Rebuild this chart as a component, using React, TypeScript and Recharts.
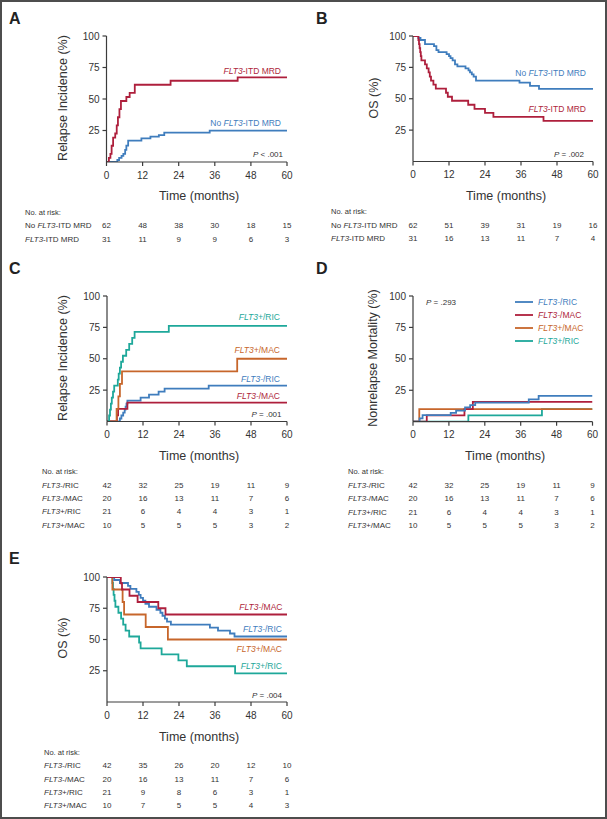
import { LineChart, Line, XAxis, YAxis } from 'recharts';

type Pt = [number, number];

const RED = '#ae1f3c';
const BLUE = '#3f7dbd';
const TEAL = '#1ea89a';
const ORANGE = '#c7662b';
const AXIS = '#3c3c3c';
const TEXT = '#333333';
const FONT = '"Liberation Sans", Arial, sans-serif';

const XT = [0, 12, 24, 36, 48, 60];
const YT = [25, 50, 75, 100];

// A: relapse incidence by FLT3-ITD MRD
const A_ITD: Pt[] = [[0, 0], [0.8, 3.2], [1.3, 6.5], [1.7, 12.9], [2.2, 19.4], [2.9, 22.6], [3.4, 29], [3.8, 35.5], [4.3, 41.9], [4.8, 48.4], [6.6, 51.6], [7.7, 54.8], [9.4, 61.3], [21.3, 64.5], [43.6, 67.2], [60, 67.2]];
const A_NO: Pt[] = [[0, 0], [3.6, 1.6], [4.2, 3.2], [5, 4.8], [5.6, 6.5], [6.2, 9.7], [6.6, 13], [7.2, 16.9], [11.6, 18.8], [14.6, 20.1], [17.4, 21.4], [19.2, 23.3], [34.3, 24.9], [60, 24.9]];
const A_RISK_NO = [62, 48, 38, 30, 18, 15];
const A_RISK_ITD = [31, 11, 9, 9, 6, 3];

// B: OS by FLT3-ITD MRD
const B_NO: Pt[] = [[0, 100], [1.8, 98.4], [2.5, 96.8], [4, 93.5], [7, 91.9], [7.8, 88.7], [8.5, 87.1], [11.2, 85.5], [12, 83.9], [12.5, 82.3], [13.2, 80.6], [14, 77.4], [14.8, 75.8], [17.5, 74.2], [18.5, 72.6], [19, 71], [19.6, 69.4], [20.2, 67.7], [21, 64.5], [35.5, 62.9], [39, 60.2], [42, 57.8], [60, 57.8]];
const B_ITD: Pt[] = [[0, 100], [1.8, 96.8], [2, 93.5], [2.2, 90.3], [2.4, 87.1], [2.6, 83.9], [2.8, 80.6], [4, 77.4], [4.6, 74.2], [5.2, 71], [5.6, 67.7], [6, 64.5], [6.8, 61.3], [7.6, 58.1], [11, 54.8], [11.6, 51.6], [13, 48.4], [18.4, 45.2], [20.5, 41.9], [24, 38.7], [26.8, 35.5], [43.5, 32.3], [60, 32.3]];
const B_RISK_NO = [62, 51, 39, 31, 19, 16];
const B_RISK_ITD = [31, 16, 13, 11, 7, 4];

// C: relapse incidence by FLT3 status and conditioning
const C_POS_RIC: Pt[] = [[0, 0], [0.7, 4.8], [1, 9.5], [1.3, 14.3], [1.6, 19], [2, 23.8], [2.4, 28.6], [3.6, 33.3], [3.9, 38.1], [4.3, 42.9], [4.7, 47.6], [5.3, 52.4], [6.4, 57.1], [7.4, 61.9], [8.4, 66.7], [9.2, 71.4], [20.6, 76.2], [60, 76.2]];
const C_POS_MAC: Pt[] = [[0, 0], [3.2, 10], [3.8, 20], [4.3, 30], [5, 40], [43.4, 50], [60, 50]];
const C_NEG_RIC: Pt[] = [[0, 0], [4.3, 2.4], [4.8, 4.8], [5.4, 7.1], [5.9, 9.5], [6.2, 11.9], [6.5, 14.3], [6.8, 16.7], [11.2, 19], [14, 21.4], [17.2, 23.8], [19.2, 26.2], [33.9, 28.6], [60, 28.6]];
const C_NEG_MAC: Pt[] = [[0, 0], [3.3, 5], [3.7, 10], [6.8, 15], [60, 15]];

// D: nonrelapse mortality
const D_NEG_RIC: Pt[] = [[0, 0], [2.2, 2.6], [3.2, 5.3], [12.6, 7.1], [14.4, 8.8], [17.4, 11.4], [19.1, 13.2], [20.8, 15.1], [38.7, 17.8], [42, 20.6], [60, 20.6]];
const D_NEG_MAC: Pt[] = [[0, 0], [4.6, 5], [17.2, 10], [20, 15.8], [60, 15.8]];
const D_POS_MAC: Pt[] = [[0, 0], [2.1, 10], [60, 10]];
const D_POS_RIC: Pt[] = [[0, 0], [18.5, 5], [43.1, 10], [60, 10]];

// E: OS by FLT3 status and conditioning
const E_NEG_MAC: Pt[] = [[0, 100], [4.6, 95], [5, 90], [7.5, 85], [10.2, 80], [17.1, 75], [19.5, 70], [60, 70]];
const E_NEG_RIC: Pt[] = [[0, 100], [2.4, 97.6], [4.3, 95.2], [7, 92.9], [7.8, 90.5], [9.8, 88.1], [10.6, 85.7], [11.2, 83.3], [12, 81], [12.8, 78.6], [14, 76.2], [16.5, 73.8], [17.8, 71.4], [18.5, 69], [19.3, 66.7], [20, 64.3], [21.3, 61.9], [34.3, 59.5], [37, 57.1], [41, 54.8], [42.5, 52.4], [60, 52.4]];
const E_POS_MAC: Pt[] = [[0, 100], [1.8, 90], [5.2, 80], [5.7, 70], [12.9, 60], [20.3, 50], [60, 50]];
const E_POS_RIC: Pt[] = [[0, 100], [1.8, 95.2], [2, 90.5], [2.2, 85.7], [2.5, 81], [2.8, 76.2], [3.8, 71.4], [4.7, 66.7], [5.4, 61.9], [6.2, 57.1], [7.4, 52.4], [10.7, 47.6], [11.2, 42.9], [18.2, 38.1], [23.8, 33.3], [26.6, 28.6], [42.7, 22.9], [60, 22.9]];

const CD_RISK_NEG_RIC = [42, 32, 25, 19, 11, 9];
const CD_RISK_NEG_MAC = [20, 16, 13, 11, 7, 6];
const CD_RISK_POS_RIC = [21, 6, 4, 4, 3, 1];
const CD_RISK_POS_MAC = [10, 5, 5, 5, 3, 2];
const E_RISK_NEG_RIC = [42, 35, 26, 20, 12, 10];
const E_RISK_NEG_MAC = [20, 16, 13, 11, 7, 6];
const E_RISK_POS_RIC = [21, 9, 8, 6, 3, 1];
const E_RISK_POS_MAC = [10, 7, 5, 5, 4, 3];

const YW = 30;
const XH = 20;

type Box = { left: number; top: number; w: number; h: number };
type Plot = { x0: number; x1: number; y0: number; y1: number };
type Series = { name: string; pts: Pt[]; color: string };

function Panel({ box, plot, series, risk }: { box: Box; plot: Plot; series: Series[]; risk: number[][] }) {
  const margin = {
    top: plot.y0 - box.top,
    right: box.left + box.w - plot.x1,
    left: plot.x0 - box.left - YW,
    bottom: box.top + box.h - plot.y1 - XH,
  };
  const axisY = plot.y1 - box.top;
  // x tick label plus the at-risk numbers under it, placed by the axis scale
  const tick = (p: any) => {
    const i = XT.indexOf(p.payload.value);
    return (
      <g>
        <text x={p.x} y={axisY + 16.5} textAnchor="middle" fontSize={10} fill={TEXT}>{p.payload.value}</text>
        {risk.map((row, r) => (
          <text key={r} x={p.x} y={axisY + 66.3 + r * 13.3} textAnchor="middle" fontSize={8} fill={TEXT}>{row[i]}</text>
        ))}
      </g>
    );
  };
  return (
    <div style={{ position: 'absolute', left: box.left, top: box.top }}>
      <LineChart width={box.w} height={box.h} margin={margin}>
        <XAxis type="number" dataKey="t" domain={[0, 60]} ticks={XT} interval={0} tickSize={4} tickMargin={2}
          stroke={AXIS} strokeWidth={1.2} height={XH} tick={tick} allowDataOverflow />
        <YAxis type="number" domain={[0, 100]} ticks={YT} interval={0} tickSize={4} tickMargin={3} width={YW}
          stroke={AXIS} strokeWidth={1.2} tick={{ fontSize: 10, fill: TEXT }} allowDataOverflow />
        {series.map((s) => (
          <Line key={s.name} name={s.name} data={s.pts.map(([t, v]) => ({ t, v }))} dataKey="v" type="stepAfter"
            stroke={s.color} strokeWidth={1.8} dot={false} activeDot={false} isAnimationActive={false} />
        ))}
      </LineChart>
    </div>
  );
}

const Flt = ({ rest, sign = '' }: { rest: string; sign?: string }) => (
  <>
    <tspan fontStyle="italic">FLT3{sign}</tspan>
    <tspan>{rest}</tspan>
  </>
);

function RowLabels({ x, axis, labels }: { x: number; axis: number; labels: any[] }) {
  return (
    <>
      <text x={x} y={axis + 52.5} fontSize={7.5}>No. at risk:</text>
      {labels.map((l, i) => (
        <text key={i} x={x} y={axis + 66.3 + i * 13.3} fontSize={8}>{l}</text>
      ))}
    </>
  );
}

const YTitle = ({ x, y, children }: { x: number; y: number; children: any }) => (
  <text x={x} y={y} transform={`rotate(-90 ${x} ${y})`} textAnchor="middle" dominantBaseline="central" fontSize={12.5}>{children}</text>
);

const TimeTitle = ({ x, y }: { x: number; y: number }) => (
  <text x={x} y={y} textAnchor="middle" fontSize={12.5}>Time (months)</text>
);

export default function App() {
  const fourLabels = [
    <Flt sign="-" rest="/RIC" />, <Flt sign="-" rest="/MAC" />, <Flt sign="+" rest="/RIC" />, <Flt sign="+" rest="/MAC" />,
  ];
  const legend = [
    { c: BLUE, l: <Flt sign="-" rest="/RIC" /> },
    { c: RED, l: <Flt sign="-" rest="/MAC" /> },
    { c: ORANGE, l: <Flt sign="+" rest="/MAC" /> },
    { c: TEAL, l: <Flt sign="+" rest="/RIC" /> },
  ];
  return (
    <div style={{ position: 'absolute', left: 0, top: 0, width: 607, height: 819, background: '#fff', fontFamily: FONT, overflow: 'hidden' }}>
      <Panel box={{ left: 0, top: 0, w: 300, h: 270 }} plot={{ x0: 106.5, x1: 287, y0: 36, y1: 162 }}
        series={[{ name: 'no', pts: A_NO, color: BLUE }, { name: 'itd', pts: A_ITD, color: RED }]}
        risk={[A_RISK_NO, A_RISK_ITD]} />
      <Panel box={{ left: 300, top: 0, w: 307, h: 270 }} plot={{ x0: 413, x1: 593, y0: 36, y1: 161.5 }}
        series={[{ name: 'no', pts: B_NO, color: BLUE }, { name: 'itd', pts: B_ITD, color: RED }]}
        risk={[B_RISK_NO, B_RISK_ITD]} />
      <Panel box={{ left: 0, top: 270, w: 300, h: 280 }} plot={{ x0: 107, x1: 287, y0: 296, y1: 421.5 }}
        series={[
          { name: 'nr', pts: C_NEG_RIC, color: BLUE }, { name: 'nm', pts: C_NEG_MAC, color: RED },
          { name: 'pm', pts: C_POS_MAC, color: ORANGE }, { name: 'pr', pts: C_POS_RIC, color: TEAL },
        ]}
        risk={[CD_RISK_NEG_RIC, CD_RISK_NEG_MAC, CD_RISK_POS_RIC, CD_RISK_POS_MAC]} />
      <Panel box={{ left: 300, top: 270, w: 307, h: 280 }} plot={{ x0: 413, x1: 592.5, y0: 296, y1: 421.7 }}
        series={[
          { name: 'pr', pts: D_POS_RIC, color: TEAL }, { name: 'pm', pts: D_POS_MAC, color: ORANGE },
          { name: 'nm', pts: D_NEG_MAC, color: RED }, { name: 'nr', pts: D_NEG_RIC, color: BLUE },
        ]}
        risk={[CD_RISK_NEG_RIC, CD_RISK_NEG_MAC, CD_RISK_POS_RIC, CD_RISK_POS_MAC]} />
      <Panel box={{ left: 0, top: 550, w: 300, h: 269 }} plot={{ x0: 107, x1: 287, y0: 577, y1: 702 }}
        series={[
          { name: 'pr', pts: E_POS_RIC, color: TEAL }, { name: 'pm', pts: E_POS_MAC, color: ORANGE },
          { name: 'nr', pts: E_NEG_RIC, color: BLUE }, { name: 'nm', pts: E_NEG_MAC, color: RED },
        ]}
        risk={[E_RISK_NEG_RIC, E_RISK_NEG_MAC, E_RISK_POS_RIC, E_RISK_POS_MAC]} />

      <svg width={607} height={819} style={{ position: 'absolute', left: 0, top: 0, pointerEvents: 'none' }} fill={TEXT} fontFamily={FONT}>
        {/* panel letters */}
        <text x={9} y={24} fontSize={16} fontWeight="bold" fill="#222">A</text>
        <text x={316} y={24} fontSize={16} fontWeight="bold" fill="#222">B</text>
        <text x={9} y={274} fontSize={16} fontWeight="bold" fill="#222">C</text>
        <text x={316} y={274} fontSize={16} fontWeight="bold" fill="#222">D</text>
        <text x={9} y={564} fontSize={16} fontWeight="bold" fill="#222">E</text>

        {/* axis titles */}
        <YTitle x={63} y={98}>Relapse Incidence (%)</YTitle>
        <YTitle x={374} y={98}>OS (%)</YTitle>
        <YTitle x={63} y={358}>Relapse Incidence (%)</YTitle>
        <YTitle x={373} y={358}>Nonrelapse Mortality (%)</YTitle>
        <YTitle x={63} y={638}>OS (%)</YTitle>
        <TimeTitle x={199} y={199.5} />
        <TimeTitle x={506} y={199.5} />
        <TimeTitle x={199} y={459.5} />
        <TimeTitle x={505} y={459.5} />
        <TimeTitle x={199} y={740.5} />

        {/* at-risk row labels */}
        <RowLabels x={25} axis={162} labels={[<><tspan>No </tspan><Flt rest="-ITD MRD" /></>, <Flt rest="-ITD MRD" />]} />
        <RowLabels x={331} axis={161.5} labels={[<><tspan>No </tspan><Flt rest="-ITD MRD" /></>, <Flt rest="-ITD MRD" />]} />
        <RowLabels x={42} axis={421.5} labels={fourLabels} />
        <RowLabels x={348} axis={421.7} labels={fourLabels} />
        <RowLabels x={44} axis={702} labels={fourLabels} />

        {/* A annotations */}
        <text x={281} y={73.7} textAnchor="end" fontSize={8.5} fill={RED}><Flt rest="-ITD MRD" /></text>
        <text x={281} y={126} textAnchor="end" fontSize={8.5} fill={BLUE}><tspan>No </tspan><Flt rest="-ITD MRD" /></text>
        <text x={283} y={156.5} textAnchor="end" fontSize={8}><tspan fontStyle="italic">P</tspan> &lt; .001</text>

        {/* B annotations */}
        <text x={586} y={75.7} textAnchor="end" fontSize={8.5} fill={BLUE}><tspan>No </tspan><Flt rest="-ITD MRD" /></text>
        <text x={586} y={112} textAnchor="end" fontSize={8.5} fill={RED}><Flt rest="-ITD MRD" /></text>
        <text x={584} y={157} textAnchor="end" fontSize={8}><tspan fontStyle="italic">P</tspan> = .002</text>

        {/* C annotations */}
        <text x={280} y={319.7} textAnchor="end" fontSize={8.5} fill={TEAL}><Flt sign="+" rest="/RIC" /></text>
        <text x={280} y={353} textAnchor="end" fontSize={8.5} fill={ORANGE}><Flt sign="+" rest="/MAC" /></text>
        <text x={280} y={382} textAnchor="end" fontSize={8.5} fill={BLUE}><Flt sign="-" rest="/RIC" /></text>
        <text x={280} y={399} textAnchor="end" fontSize={8.5} fill={RED}><Flt sign="-" rest="/MAC" /></text>
        <text x={281.5} y={417} textAnchor="end" fontSize={8}><tspan fontStyle="italic">P</tspan> = .001</text>

        {/* D legend */}
        <text x={426} y={305} fontSize={8}><tspan fontStyle="italic">P</tspan> = .293</text>
        {legend.map((it, i) => (
          <g key={i}>
            <line x1={515} x2={533} y1={302 + i * 13} y2={302 + i * 13} stroke={it.c} strokeWidth={1.8} />
            <text x={538} y={305 + i * 13} fontSize={8.5} fill={it.c}>{it.l}</text>
          </g>
        ))}

        {/* E annotations */}
        <text x={282.5} y={609.7} textAnchor="end" fontSize={8.5} fill={RED}><Flt sign="-" rest="/MAC" /></text>
        <text x={282} y={632} textAnchor="end" fontSize={8.5} fill={BLUE}><Flt sign="-" rest="/RIC" /></text>
        <text x={282} y={652} textAnchor="end" fontSize={8.5} fill={ORANGE}><Flt sign="+" rest="/MAC" /></text>
        <text x={282} y={668.7} textAnchor="end" fontSize={8.5} fill={TEAL}><Flt sign="+" rest="/RIC" /></text>
        <text x={282} y={698} textAnchor="end" fontSize={8}><tspan fontStyle="italic">P</tspan> = .004</text>
      </svg>
      <div style={{ position: 'absolute', left: 0, top: 0, width: 607, height: 819, boxSizing: 'border-box', border: '2px solid #4d4d4d', pointerEvents: 'none' }} />
    </div>
  );
}
